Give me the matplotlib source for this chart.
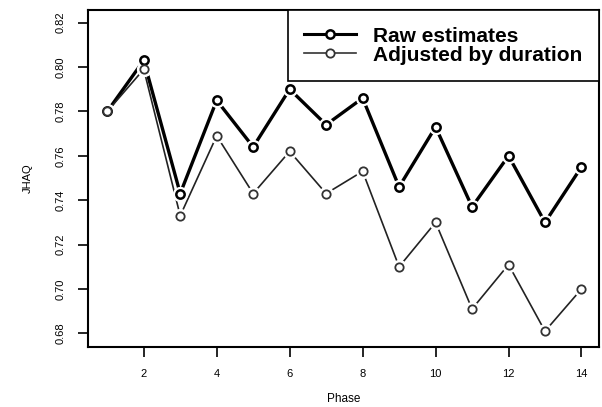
import matplotlib
matplotlib.use("Agg")
import matplotlib.pyplot as plt
from matplotlib.lines import Line2D

phase = list(range(1, 15))
raw_estimates = [0.780, 0.803, 0.743, 0.785, 0.764, 0.790, 0.774, 0.786,
                 0.746, 0.773, 0.737, 0.760, 0.730, 0.755]
adjusted_by_duration = [0.780, 0.799, 0.733, 0.769, 0.743, 0.762, 0.743, 0.753,
                        0.710, 0.730, 0.691, 0.711, 0.681, 0.700]
y_ticks = [0.68, 0.70, 0.72, 0.74, 0.76, 0.78, 0.80, 0.82]
y_ticklabels = ["0.68", "0.70", "0.72", "0.74", "0.76", "0.78", "0.80", "0.82"]
x_ticks = [2, 4, 6, 8, 10, 12, 14]

plt.rcParams['font.family'] = ['Liberation Sans', 'DejaVu Sans']

fig = plt.figure(figsize=(6.02, 4.07), dpi=100)
ax = fig.add_axes([88.3 / 602, 1 - 346.7 / 407, (599 - 88.3) / 602, (346.7 - 10) / 407])

# white halos to mimic R type="b" gaps
ax.plot(phase, raw_estimates, 'o', ms=10, mfc='white', mec='white', zorder=3)
ax.plot(phase, adjusted_by_duration, 'o', ms=10, mfc='white', mec='white', zorder=3)

ax.plot(phase, raw_estimates, '-', color='black', lw=2.4, zorder=2)
ax.plot(phase, adjusted_by_duration, '-', color='#222222', lw=1.2, zorder=2)

ax.plot(phase, raw_estimates, 'o', ms=6, mfc='white', mec='black', mew=1.8, zorder=4)
ax.plot(phase, adjusted_by_duration, 'o', ms=6, mfc='white', mec='#333333', mew=1.3, zorder=4)

h1 = Line2D([], [], color='black', lw=2.2, marker='o', ms=6, mfc='white', mec='black', mew=1.8)
h2 = Line2D([], [], color='#333333', lw=1.2, marker='o', ms=6, mfc='white', mec='#333333', mew=1.3)
leg = ax.legend([h1, h2], ["Raw estimates", "Adjusted by duration"],
                loc='upper right', bbox_to_anchor=(1.0, 1.0), borderaxespad=0,
                frameon=True, fancybox=False, edgecolor='black', framealpha=1,
                prop={'size': 15, 'weight': 'bold'}, handlelength=2.5,
                handletextpad=0.8, labelspacing=0.0, borderpad=0.8)
leg.get_frame().set_linewidth(1.2)

ax.set_xlim(0.48, 14.48)
ax.set_ylim(0.674, 0.8257)
ax.set_xticks(x_ticks)
ax.set_xticklabels([str(t) for t in x_ticks], fontsize=8)
ax.set_yticks(y_ticks)
ax.set_yticklabels(y_ticklabels, fontsize=8, rotation=90, va='center')
ax.tick_params(axis='both', direction='out', length=7, width=1.2, colors='black')
ax.tick_params(axis='x', pad=9)
ax.tick_params(axis='y', pad=9)
for s in ax.spines.values():
    s.set_linewidth(1.5)

ax.set_xlabel("Phase", fontsize=8.5, labelpad=10)
ax.set_ylabel("JHAQ", fontsize=8, labelpad=17)

fig.savefig("out.png", dpi=100)
